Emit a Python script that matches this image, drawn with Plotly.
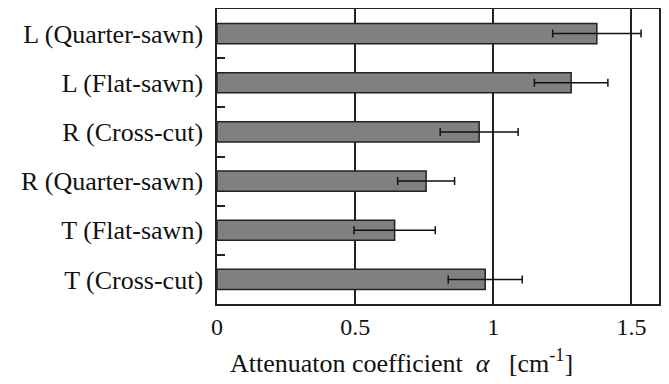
import plotly.graph_objects as go

categories = ["L (Quarter-sawn)", "L (Flat-sawn)", "R (Cross-cut)",
              "R (Quarter-sawn)", "T (Flat-sawn)", "T (Cross-cut)"]
values = [1.375, 1.282, 0.949, 0.757, 0.643, 0.971]
errors = [0.16, 0.133, 0.141, 0.103, 0.147, 0.134]
x_ticks = [0, 0.5, 1, 1.5]
x_tick_labels = ["0", "0.5", "1", "1.5"]
x_title = "Attenuaton coefficient\u00a0\u00a0<i>α</i>\u00a0\u00a0\u00a0[cm<sup>-1</sup>]"

font_family = "Liberation Serif"

fig = go.Figure(go.Bar(
    y=categories, x=values, orientation="h", width=0.41,
    marker=dict(color="#808080", line=dict(color="#222222", width=1.5)),
    error_x=dict(type="data", array=errors, color="#111111", thickness=1.5, width=4),
))

# page body has an 8px default margin; size the figure to fit the 669x384 window
fig.update_layout(
    width=661, height=376,
    margin=dict(l=209, r=10, t=1, b=80),
    paper_bgcolor="white", plot_bgcolor="white",
    font=dict(family=font_family, size=24, color="#111111"),
    showlegend=False,
    xaxis=dict(
        range=[0, 1.6], tickvals=x_ticks, ticktext=x_tick_labels,
        showgrid=True, gridcolor="#222222", gridwidth=1.5, automargin=False,
        zeroline=False, showline=True, linecolor="#222222", linewidth=1.5, mirror=True,
        ticks="", tickfont=dict(family=font_family, size=24),
    ),
    yaxis=dict(
        categoryorder="array", categoryarray=categories, autorange="reversed",
        showline=True, linecolor="#222222", linewidth=1.5, mirror=True, automargin=False,
        ticks="inside", tickson="boundaries", ticklen=8, tickwidth=1.5, tickcolor="#222222",
        showgrid=False, tickfont=dict(family=font_family, size=26), ticklabelstandoff=7,
    ),
    annotations=[dict(
        text=x_title, xref="paper", yref="paper", x=0.025, y=0,
        xanchor="left", yanchor="middle", yshift=-57, showarrow=False,
        font=dict(family=font_family, size=26, color="#111111"),
    )],
)

fig.write_html("out.html")
